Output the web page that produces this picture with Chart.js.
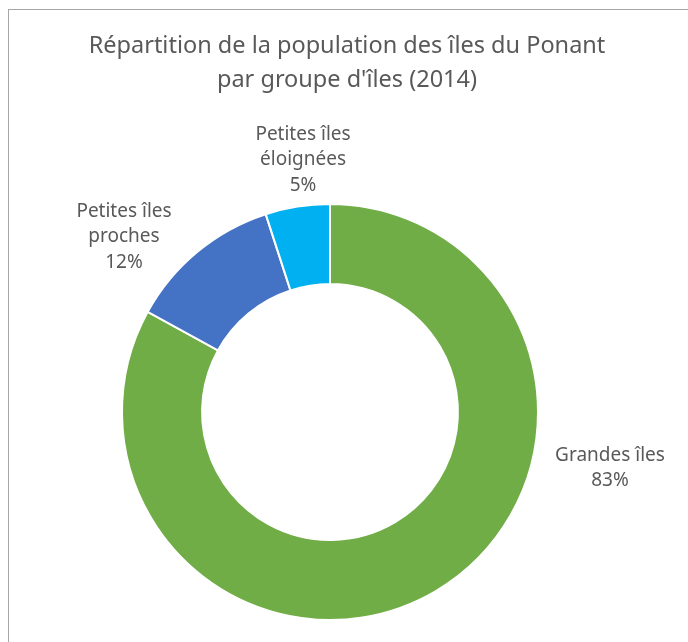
<!DOCTYPE html>
<html>
<head>
<meta charset="utf-8">
<script src="https://cdn.jsdelivr.net/npm/chart.js@4/dist/chart.umd.min.js"></script>
<style>
  html, body { margin: 0; padding: 0; background: #fff; }
  #wrap { position: relative; width: 688px; height: 642px; overflow: hidden; }
  #frame { position: absolute; left: 8px; top: 9px; width: 700px; height: 660px;
           border: 1px solid #a6a6a6; box-sizing: border-box; }
  canvas { position: absolute; left: 0; top: 0; }
</style>
</head>
<body>
<div id="wrap">
  <div id="frame"></div>
  <canvas id="donut" width="688" height="642"></canvas>
</div>
<script>
/* ---------- Data ---------- */
const TITLE_LINES = ["Répartition de la population des îles du Ponant", "par groupe d'îles (2014)"];
const GROUPS = ["Grandes îles", "Petites îles proches", "Petites îles éloignées"];
const SHARES = [83, 12, 5];
const COLORS = ["#70AD47", "#4472C4", "#00B0F0"];
// label text lines per slice (name split like the original)
const LABEL_LINES = [["Grandes îles"], ["Petites îles", "proches"], ["Petites îles", "éloignées"]];

const TEXT_COLOR = "#595959";
const FONT = "'Noto Sans', 'Open Sans', sans-serif";

/* ---------- Title + outside labels ---------- */
const decorPlugin = {
  id: "decor",
  afterDraw(chart, args, opts) {
    const ctx = chart.ctx;
    ctx.save();
    ctx.fillStyle = TEXT_COLOR;
    ctx.textAlign = "center";
    ctx.textBaseline = "middle";

    // title
    ctx.font = "23.5px " + FONT;
    TITLE_LINES.forEach((t, i) => ctx.fillText(t, opts.titleX, opts.titleY + i * opts.titleGap));

    // data labels
    ctx.font = "19px " + FONT;
    const total = SHARES.reduce((a, b) => a + b, 0);
    chart.getDatasetMeta(0).data.forEach((arc, i) => {
      const pct = Math.round(SHARES[i] / total * 100) + "%";
      const lines = LABEL_LINES[i].concat([pct]);
      const p = opts.labelPos[i];
      const y0 = p.y - (lines.length - 1) * opts.lineGap / 2;
      lines.forEach((l, k) => ctx.fillText(l, p.x, y0 + k * opts.lineGap));
    });
    ctx.restore();
  }
};

new Chart(document.getElementById("donut"), {
  type: "doughnut",
  data: {
    labels: GROUPS,
    datasets: [{
      data: SHARES,
      backgroundColor: COLORS,
      borderColor: "#ffffff",
      borderWidth: 2
    }]
  },
  options: {
    responsive: false,
    animation: false,
    cutout: "61.5%",
    layout: { padding: { left: 121, right: 149, top: 203, bottom: 21 } },
    plugins: {
      legend: { display: false },
      tooltip: { enabled: false },
      title: { display: false },
      decor: {
        titleX: 347, titleY: 46, titleGap: 34,
        lineGap: 25.5,
        labelPos: [
          { x: 610, y: 468 },
          { x: 124, y: 237 },
          { x: 303, y: 160 }
        ]
      }
    }
  },
  plugins: [decorPlugin]
});
</script>
</body>
</html>
